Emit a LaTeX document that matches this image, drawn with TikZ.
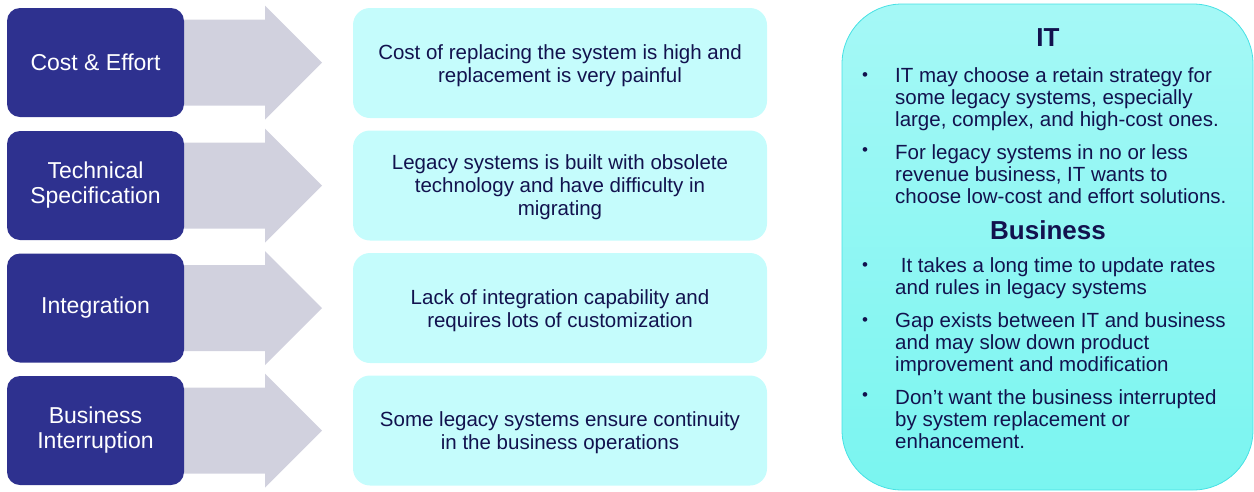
\documentclass[tikz,border=0pt]{standalone}
\usepackage{fontspec}
\setmainfont{Liberation Sans}
\definecolor{boxblue}{RGB}{46,49,143}
\definecolor{arrowgray}{RGB}{209,209,222}
\definecolor{lightcyan}{RGB}{197,252,252}
\definecolor{navytext}{RGB}{18,18,78}
\definecolor{paneltop}{RGB}{165,248,246}
\definecolor{panelbot}{RGB}{122,245,240}
\definecolor{panelborder}{RGB}{70,225,228}
\begin{document}
\begin{tikzpicture}[x=1pt,y=-1pt,
  lbox/.style={rectangle, rounded corners=13pt, fill=boxblue, minimum width=177pt, minimum height=109pt, text=white, align=center, font=\fontsize{23}{25}\selectfont, inner sep=0pt},
  mbox/.style={rectangle, rounded corners=17pt, fill=lightcyan, minimum width=414pt, minimum height=110pt, inner sep=0pt},
  mtext/.style={text=navytext, align=center, font=\fontsize{20.5}{23}\selectfont, inner sep=0pt},
  panel/.style={rectangle, rounded corners=60pt, top color=paneltop, bottom color=panelbot, draw=panelborder, line width=0.8pt, minimum width=411pt, minimum height=486pt, inner sep=0pt},
  head/.style={text=navytext, font=\fontsize{26}{28}\selectfont\bfseries, inner sep=0pt},
  bmark/.style={text=navytext, font=\fontsize{17}{17}\selectfont, inner sep=0pt},
  btext/.style={text=navytext, anchor=west, align=left, font=\fontsize{20.5}{22}\selectfont, inner sep=0pt},
  grayarrow/.style={fill=arrowgray}
]
\useasboundingbox (0,0) rectangle (1254,491);

% gray arrows
\foreach \c in {62.5,185.5,308,430.5}{
  \fill[grayarrow] (175,\c-43) -- (265,\c-43) -- (265,\c-57) -- (322,\c) -- (265,\c+57) -- (265,\c+43) -- (175,\c+43) -- cycle;
}

% left labels
\node[lbox] (l1) at (95.5,62.5) {Cost \& Effort};
\node[lbox] (l2) at (95.5,185.5) {Technical\\Specification};
\node[lbox] (l3) at (95.5,308) {Integration};
\node[lbox] (l4) at (95.5,430.5) {Business\\Interruption};

% middle boxes
\node[mbox] (m1) at (560,63) {};
\node[mbox] (m2) at (560,185.5) {};
\node[mbox] (m3) at (560,308) {};
\node[mbox] (m4) at (560,430.5) {};
\node[mtext] (m1t) at (560,65.5) {Cost of replacing the system is high and\\replacement is very painful};
\node[mtext] (m2t) at (560,187.5) {Legacy systems is built with obsolete\\technology and have difficulty in\\migrating};
\node[mtext] (m3t) at (560,310.5) {Lack of integration capability and\\requires lots of customization};
\node[mtext] (m4t) at (560,432.5) {Some legacy systems ensure continuity\\in the business operations};

% right panel
\node[panel] (p) at (1047.5,247) {};
\node[head] (hit) at (1048,38) {IT};
\node[head] (hbu) at (1048,230) {Business};

\node[bmark] (b1) at (865,77) {\textbullet};
\node[btext] (t1) at (895,99) {IT may choose a retain strategy for\\some legacy systems, especially\\large, complex, and high-cost ones.};
\node[bmark] (b2) at (865,152) {\textbullet};
\node[btext] (t2) at (895,174) {For legacy systems in no or less\\revenue business, IT wants to\\choose low-cost and effort solutions.};
\node[bmark] (b3) at (865,267) {\textbullet};
\node[btext] (t3) at (895,278.5) {\ It takes a long time to update rates\\and rules in legacy systems};
\node[bmark] (b4) at (865,322) {\textbullet};
\node[btext] (t4) at (895,344) {Gap exists between IT and business\\and may slow down product\\improvement and modification};
\node[bmark] (b5) at (865,397) {\textbullet};
\node[btext] (t5) at (895,419) {Don’t want the business interrupted\\by system replacement or\\enhancement.};
\end{tikzpicture}
\end{document}
